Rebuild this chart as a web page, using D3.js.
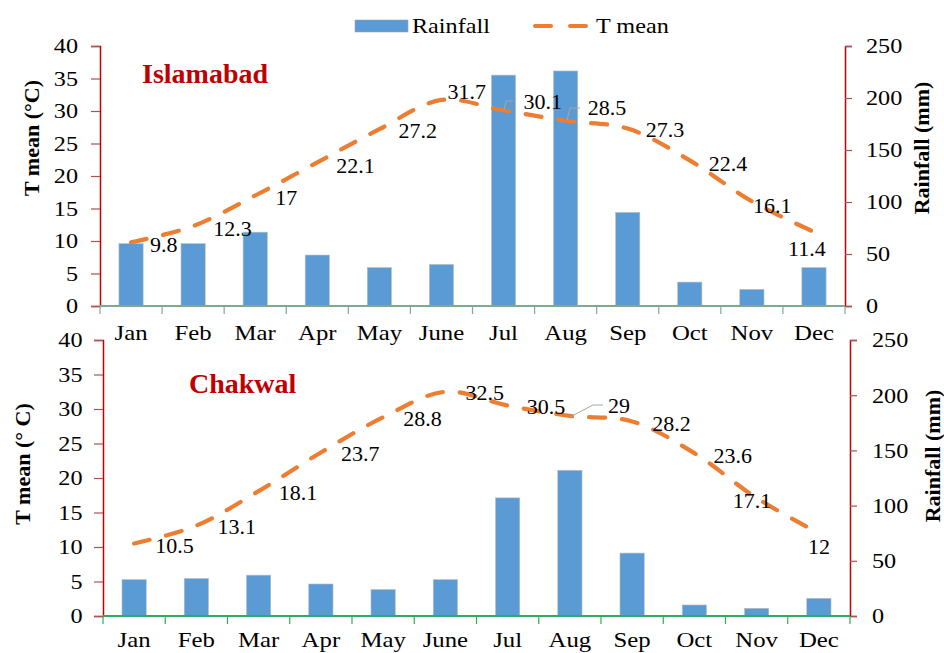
<!DOCTYPE html>
<html>
<head>
<meta charset="utf-8">
<script src="https://cdn.jsdelivr.net/npm/d3@7"></script>
<style>
    body { margin: 0; background: #fff; }
</style>
</head>
<body>
<script>
//wrap everything in an anonymous function so nothing is in global scope
(function () {

    //chart data
    var months = ["Jan", "Feb", "Mar", "Apr", "May", "June", "Jul", "Aug", "Sep", "Oct", "Nov", "Dec"];
    var tempTicks = [0, 5, 10, 15, 20, 25, 30, 35, 40];
    var rainTicks = [0, 50, 100, 150, 200, 250];

    var islamabadRain = [60, 60, 71, 49, 37, 40, 222, 226, 90, 23, 16, 37];
    var islamabadTemp = [9.8, 12.3, 17, 22.1, 27.2, 31.7, 30.1, 28.5, 27.3, 22.4, 16.1, 11.4];

    var chakwalRain = [33, 34, 37, 29, 24, 33, 107, 132, 57, 10, 7, 16];
    var chakwalTemp = [10.5, 13.1, 18.1, 23.7, 28.8, 32.5, 30.5, 29, 28.2, 23.6, 17.1, 12];

    //label nudges (dx to label start, dy to label middle), layout only
    var islamabadNudge = [[19, 2], [20, 2], [20, 2], [19, 3], [19, 1], [6, -9], [20, -9], [22, -13], [18, 1], [19, 3], [1, 4], [-26, 16]];
    var chakwalNudge = [[21, 2], [21, 1], [20, 1], [20, 1], [20, 1], [20, 1], [19, 1], [38, -11], [20, 2], [19, 2], [-24, 2], [-11, 13]];

    var barColor = "#5B9BD5",
        lineColor = "#ED7D31",
        axisRed = "#C00000",
        serif = "'Liberation Serif', 'Times New Roman', serif",
        stretch = 1.18; //the original picture is a bit wide

    var svg = d3.select("body")
        .append("svg")
        .attr("width", 944)
        .attr("height", 653);

    //set font on a text selection
    function font(sel, size, bold) {
        return sel.style("font-family", serif)
            .style("font-size", size + "px")
            .style("font-weight", bold ? "bold" : "normal")
            .style("fill", "#000");
    }

    //place text widened like the reference
    function wide(sel, fx, fy) {
        return sel.attr("x", 0).attr("y", 0)
            .attr("transform", function (d, i) {
                return "translate(" + fx(d, i) + "," + fy(d, i) + ") scale(" + stretch + ",1)";
            });
    }

    //legend
    var legend = svg.append("g").attr("class", "legend");
    legend.append("rect")
        .attr("x", 355).attr("y", 20)
        .attr("width", 53).attr("height", 12)
        .style("fill", barColor)
        .style("stroke", "#a6a6a6").style("stroke-width", 0.6);
    font(wide(legend.append("text").text("Rainfall"), function () { return 412; }, function () { return 33; }), 20.5);
    legend.append("line")
        .attr("x1", 535).attr("x2", 587).attr("y1", 26).attr("y2", 26)
        .style("stroke", lineColor).style("stroke-width", 4)
        .style("stroke-linecap", "round").style("stroke-dasharray", "16,19");
    font(wide(legend.append("text").text("T mean"), function () { return 596; }, function () { return 33; }), 20.5);

    setPanel({
        left: 100, right: 845, top: 46, bottom: 306,
        city: "Islamabad", cityX: 142, cityY: 83,
        tempTitle: "T mean (°C)", tempTitleX: 39, tempTitleY: 138,
        rainTitleX: 929, rainTitleY: 148,
        leftPad: 22, rightPad: 21, monthY: 34,
        xAxisColor: "#7FAA92",
        rain: islamabadRain, temp: islamabadTemp, nudge: islamabadNudge,
        leaders: [
            [[504, 110], [506, 101], [513, 101]],
            [[567, 120], [570, 108], [580, 108]]
        ]
    });

    setPanel({
        left: 103, right: 850, top: 340, bottom: 616,
        city: "Chakwal", cityX: 189, cityY: 393,
        tempTitle: "T mean (° C)", tempTitleX: 30, tempTitleY: 464,
        rainTitleX: 940, rainTitleY: 456,
        leftPad: 20.5, rightPad: 22, monthY: 31,
        xAxisColor: "#2EAD5C",
        rain: chakwalRain, temp: chakwalTemp, nudge: chakwalNudge,
        leaders: [
            [[570, 417], [593, 405], [603, 405]]
        ]
    });

    //draw one climate panel: bars for rain, dashed smooth line for temperature
    function setPanel(p) {
        var g = svg.append("g");

        var x = d3.scaleBand()
            .domain(months)
            .range([p.left, p.right])
            .paddingInner(0.61)
            .paddingOuter(0.3);

        var yTemp = d3.scaleLinear().domain([0, 40]).range([p.bottom, p.top]);
        var yRain = d3.scaleLinear().domain([0, 250]).range([p.bottom, p.top]);

        //center of each month band
        var step = (p.right - p.left) / months.length;
        function cx(i) { return p.left + step * (i + 0.5); }

        //bars
        g.selectAll(".bars")
            .data(p.rain)
            .enter()
            .append("rect")
            .attr("class", "bars")
            .attr("x", function (d, i) { return cx(i) - x.bandwidth() / 2; })
            .attr("width", x.bandwidth())
            .attr("y", function (d) { return yRain(d); })
            .attr("height", function (d) { return p.bottom - yRain(d); })
            .style("fill", barColor)
            .style("stroke", "#bfbfbf")
            .style("stroke-width", 0.6);

        //left axis
        var leftAxis = g.append("g")
            .attr("transform", "translate(" + p.left + ",0)")
            .call(d3.axisLeft(yTemp).tickValues(tempTicks).tickSize(9));
        styleAxis(leftAxis, axisRed, -p.leftPad);

        //right axis
        var rightAxis = g.append("g")
            .attr("transform", "translate(" + p.right + ",0)")
            .call(d3.axisRight(yRain).tickValues(rainTicks).tickSize(7));
        styleAxis(rightAxis, axisRed, p.rightPad);

        //x axis: ticks at the month boundaries
        var xAxis = g.append("g")
            .attr("transform", "translate(0," + p.bottom + ")");
        xAxis.append("line")
            .attr("x1", p.left).attr("x2", p.right)
            .style("stroke", p.xAxisColor).style("stroke-width", 2);
        xAxis.selectAll(".xtick")
            .data(d3.range(months.length + 1))
            .enter()
            .append("line")
            .attr("x1", function (d) { return p.left + d * step; })
            .attr("x2", function (d) { return p.left + d * step; })
            .attr("y1", 0).attr("y2", 8)
            .style("stroke", p.xAxisColor).style("stroke-width", 1.2);
        font(wide(xAxis.selectAll(".xlabel")
            .data(months)
            .enter()
            .append("text")
            .attr("text-anchor", "middle")
            .text(function (d) { return d; }),
            function (d, i) { return cx(i); },
            function () { return p.monthY; }), 21);

        //temperature line
        var line = d3.line()
            .x(function (d, i) { return cx(i); })
            .y(function (d) { return yTemp(d); })
            .curve(d3.curveCatmullRom.alpha(0.5));

        g.append("path")
            .datum(p.temp)
            .attr("d", line)
            .style("fill", "none")
            .style("stroke", lineColor)
            .style("stroke-width", 4.2)
            .style("stroke-linecap", "round")
            .style("stroke-dasharray", "16,17");

        //leader lines for the moved labels
        p.leaders.forEach(function (pts) {
            g.append("polyline")
                .attr("points", pts.map(function (q) { return q[0] + "," + q[1]; }).join(" "))
                .style("fill", "none")
                .style("stroke", "#a6a6a6")
                .style("stroke-width", 1);
        });

        //data labels
        font(g.selectAll(".numbers")
            .data(p.temp)
            .enter()
            .append("text")
            .attr("class", "numbers")
            .attr("x", function (d, i) { return cx(i) + p.nudge[i][0]; })
            .attr("y", function (d, i) { return yTemp(d) + p.nudge[i][1]; })
            .attr("dy", "0.35em")
            .text(function (d) { return d; }), 22);

        //city title
        font(g.append("text")
            .attr("x", p.cityX)
            .attr("y", p.cityY)
            .text(p.city), 28, true)
            .style("fill", axisRed);

        //axis titles
        font(g.append("text")
            .attr("text-anchor", "middle")
            .attr("transform", "translate(" + p.tempTitleX + "," + p.tempTitleY + ") rotate(-90)")
            .text(p.tempTitle), 22, true);

        font(g.append("text")
            .attr("text-anchor", "middle")
            .attr("transform", "translate(" + p.rainTitleX + "," + p.rainTitleY + ") rotate(-90)")
            .text("Rainfall (mm)"), 22, true);
    }

    //colour an axis and widen its tick labels
    function styleAxis(axis, color, pad) {
        axis.select(".domain").style("stroke", color).style("stroke-width", 1.5);
        axis.selectAll(".tick line").style("stroke", "#B05050").style("stroke-width", 1.2);
        var labels = axis.selectAll(".tick text")
            .attr("text-anchor", pad < 0 ? "end" : "start")
            .attr("dy", "0.34em");
        font(wide(labels, function () { return pad; }, function () { return 0; }), 20.5);
    }

})();
</script>
</body>
</html>
